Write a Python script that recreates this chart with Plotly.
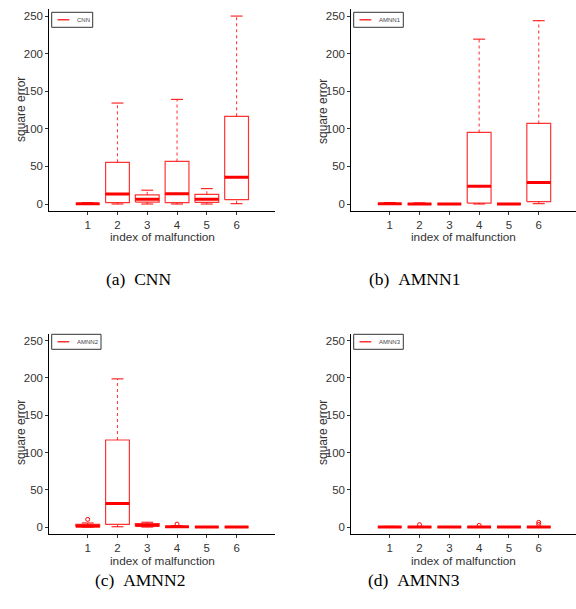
import plotly.graph_objects as go

W, H = 576, 609

# ---------------- data ----------------
positions = [1, 2, 3, 4, 5, 6]
x_ticks = [1, 2, 3, 4, 5, 6]
y_ticks = [0, 50, 100, 150, 200, 250]
model_names = ["CNN", "AMNN1", "AMNN2", "AMNN3"]
captions = ["(a)\u00a0\u00a0CNN", "(b)\u00a0\u00a0AMNN1",
            "(c)\u00a0\u00a0AMNN2", "(d)\u00a0\u00a0AMNN3"]

cnn_lo = [0, 0, 0, 0, 0, 0.4]
cnn_q1 = [0, 1.8, 2.6, 1.8, 2.2, 5.8]
cnn_med = [0.3, 13.3, 6.4, 13.7, 6.2, 35.5]
cnn_q3 = [0.8, 55.4, 12.2, 56.7, 12.9, 116.6]
cnn_hi = [1.8, 134.3, 18.4, 139.2, 20.4, 250.0]
cnn_out = [[], [], [], [], [], []]

amnn1_lo = [0, 0, 0, 0, 0, 0.4]
amnn1_q1 = [0, 0, 0, 1.3, 0, 3.1]
amnn1_med = [0.2, 0.1, 0.1, 23.6, 0.1, 28.5]
amnn1_q3 = [0.6, 0.5, 0.3, 95.2, 0.3, 107.2]
amnn1_hi = [2.0, 1.5, 0.6, 219.3, 0.6, 243.8]
amnn1_out = [[], [], [], [], [], []]

amnn2_lo = [0, 0.4, 0, 0, 0, 0]
amnn2_q1 = [0.3, 3.6, 1.2, 0, 0, 0]
amnn2_med = [1.5, 31.6, 2.5, 0.5, 0.1, 0.1]
amnn2_q3 = [3.5, 116.8, 4.5, 1.0, 0.3, 0.3]
amnn2_hi = [5.5, 198.8, 6.5, 1.8, 0.6, 0.6]
amnn2_out = [[10.3], [], [], [4.0], [], []]

amnn3_lo = [0, 0, 0, 0, 0, 0]
amnn3_q1 = [0, 0, 0, 0, 0, 0]
amnn3_med = [0.1, 0.1, 0.1, 0.1, 0.1, 0.1]
amnn3_q3 = [0.4, 0.4, 0.3, 0.4, 0.3, 0.4]
amnn3_hi = [1.0, 0.8, 0.6, 0.8, 0.6, 0.8]
amnn3_out = [[], [3.2], [], [2.3], [], [6.3, 3.6]]

panels_data = [
    (cnn_lo, cnn_q1, cnn_med, cnn_q3, cnn_hi, cnn_out),
    (amnn1_lo, amnn1_q1, amnn1_med, amnn1_q3, amnn1_hi, amnn1_out),
    (amnn2_lo, amnn2_q1, amnn2_med, amnn2_q3, amnn2_hi, amnn2_out),
    (amnn3_lo, amnn3_q1, amnn3_med, amnn3_q3, amnn3_hi, amnn3_out),
]

# ---------------- layout helpers ----------------
def px(x):
    return x / W

def py(y):
    return 1 - y / H

RED = "#ff0000"
BOX_RED = "rgba(255,0,0,0.8)"
WHISK_RED = "rgba(255,0,0,0.75)"
SANS = "Liberation Sans, Arial, sans-serif"
SERIF = "Liberation Serif, Times New Roman, serif"

# panel pixel geometry: (x_left, x_right, y_top, y_bottom)
geo = [
    (49.3, 275.0, 9.3, 211.0),
    (351.3, 576.0, 9.3, 211.0),
    (49.3, 275.0, 334.0, 534.0),
    (351.3, 576.0, 334.0, 534.0),
]
x_ranges = [[-0.29, 7.29], [-0.29, 7.25], [-0.29, 7.29], [-0.29, 7.25]]
y_range = [-9.3, 259.0]

# axis titles (center px), captions, legends
ytitle_pos = [(21, 110), (323, 112), (21, 433), (323, 433)]
xtitle_pos = [(162, 237), (463, 237), (162, 560.5), (463, 560.5)]
caption_pos = [(138.6, 279), (414, 279), (140, 580), (414, 580)]
legend_box = [
    (51.7, 92.7, 12.3, 27.3),
    (353.7, 403.3, 12.3, 27.3),
    (51.7, 101.0, 334.3, 349.3),
    (353.7, 403.3, 334.3, 349.3),
]

fig = go.Figure()
BW = 0.4   # box half width
CW = 0.2   # cap half width

shapes = []
annotations = []

for k, (lo, q1, med, q3, hi, outs) in enumerate(panels_data):
    xa = "x" if k == 0 else f"x{k+1}"
    ya = "y" if k == 0 else f"y{k+1}"
    bx, by, mx, my, wx, wy, cx, cy, ox, oy = [], [], [], [], [], [], [], [], [], []
    for i, p in enumerate(positions):
        bx += [p - BW, p + BW, p + BW, p - BW, p - BW, None]
        by += [q1[i], q1[i], q3[i], q3[i], q1[i], None]
        mx += [p - BW, p + BW, None]
        my += [med[i], med[i], None]
        wx += [p, p, None, p, p, None]
        wy += [q3[i], hi[i], None, lo[i], q1[i], None]
        cx += [p - CW, p + CW, None, p - CW, p + CW, None]
        cy += [hi[i], hi[i], None, lo[i], lo[i], None]
        for v in outs[i]:
            ox.append(p)
            oy.append(v)
    common = dict(xaxis=xa, yaxis=ya, showlegend=False, hoverinfo="skip")
    fig.add_trace(go.Scatter(x=wx, y=wy, mode="lines",
                             line=dict(color=WHISK_RED, width=1.1, dash="3px,3px"), **common))
    fig.add_trace(go.Scatter(x=cx, y=cy, mode="lines",
                             line=dict(color=RED, width=1), **common))
    fig.add_trace(go.Scatter(x=bx, y=by, mode="lines",
                             line=dict(color=BOX_RED, width=1.2), **common))
    fig.add_trace(go.Scatter(x=mx, y=my, mode="lines",
                             line=dict(color=RED, width=3), **common))
    if ox:
        fig.add_trace(go.Scatter(x=ox, y=oy, mode="markers",
                                 marker=dict(symbol="circle-open", size=4,
                                             color=RED, line=dict(width=1)),
                                 **common))

    # axes
    xl, xr, yt, yb = geo[k]
    axis_common = dict(showgrid=False, zeroline=False, showline=True,
                       linecolor="#000", linewidth=1, ticks="outside",
                       ticklen=3, tickwidth=1, tickcolor="#333",
                       tickfont=dict(family=SANS, size=11.5, color="#333"))
    xkey = "xaxis" if k == 0 else f"xaxis{k+1}"
    ykey = "yaxis" if k == 0 else f"yaxis{k+1}"
    fig.update_layout(**{
        xkey: dict(domain=[px(xl), min(px(xr), 1.0)], range=x_ranges[k],
                   anchor=ya, tickvals=x_ticks, **axis_common),
        ykey: dict(domain=[py(yb), py(yt)], range=y_range,
                   anchor=xa, tickvals=y_ticks, **axis_common),
    })

    # axis titles
    tx, ty = ytitle_pos[k]
    annotations.append(dict(text="square error", x=px(tx), y=py(ty),
                            xref="paper", yref="paper", showarrow=False,
                            textangle=-90, xanchor="center", yanchor="middle",
                            font=dict(family=SANS, size=12, color="#333")))
    tx, ty = xtitle_pos[k]
    annotations.append(dict(text="index of malfunction", x=px(tx), y=py(ty),
                            xref="paper", yref="paper", showarrow=False,
                            xanchor="center", yanchor="middle",
                            font=dict(family=SANS, size=11.8, color="#333")))
    tx, ty = caption_pos[k]
    annotations.append(dict(text=captions[k], x=px(tx), y=py(ty),
                            xref="paper", yref="paper", showarrow=False,
                            xanchor="center", yanchor="middle",
                            font=dict(family=SERIF, size=17.5, color="#000")))

    # legend (drawn manually for the tiny key)
    lx0, lx1, ly0, ly1 = legend_box[k]
    shapes.append(dict(type="rect", xref="paper", yref="paper", layer="above",
                       x0=px(lx0), x1=px(lx1), y0=py(ly1), y1=py(ly0),
                       line=dict(color="#333", width=1), fillcolor="white"))
    ymid = (ly0 + ly1) / 2
    shapes.append(dict(type="line", xref="paper", yref="paper", layer="above",
                       x0=px(lx0 + 5.8), x1=px(lx0 + 17.6), y0=py(ymid), y1=py(ymid),
                       line=dict(color=RED, width=1.2)))
    annotations.append(dict(text=model_names[k], x=px(lx0 + 23.6), y=py(ymid),
                            xref="paper", yref="paper", showarrow=False,
                            xanchor="left", yanchor="middle",
                            font=dict(family=SANS, size=6, color="#444")))

fig.update_layout(
    width=W, height=H,
    margin=dict(l=0, r=0, t=0, b=0),
    paper_bgcolor="white", plot_bgcolor="white",
    showlegend=False,
    shapes=shapes, annotations=annotations,
)

fig.write_html("out.html")
